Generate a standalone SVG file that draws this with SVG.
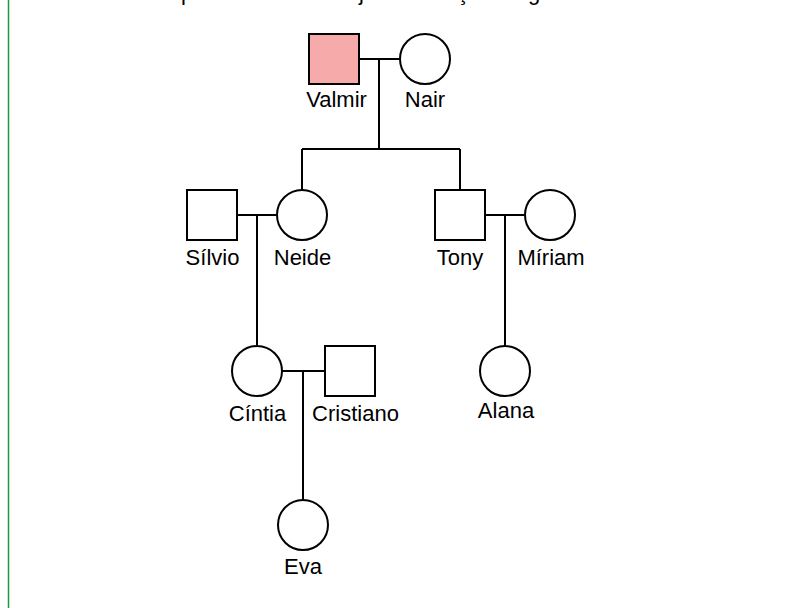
<svg xmlns="http://www.w3.org/2000/svg" width="792" height="608" viewBox="0 0 792 608">
<style>
.n{fill:#fff;stroke:#000;stroke-width:2}
.a{fill:#f7aaaa}
.l{fill:none;stroke:#000;stroke-width:2}
text{font-family:"Liberation Sans",Arial,sans-serif;font-size:22px;fill:#000}
.c{text-anchor:middle}
</style>
<rect width="792" height="608" fill="#fff"/>
<line x1="8.5" y1="0" x2="8.5" y2="608" stroke="#1a9a3a" stroke-width="1.5"/>
<text y="0"><tspan x="181">p</tspan><tspan x="359">j</tspan><tspan x="457">ç</tspan><tspan x="528">g</tspan></text>
<g id="connectors" class="l">
<path class="l" d="M359 59H400M379 59V149M302 149H460M302 149V190M460 149V190"/>
<path class="l" d="M237 215H277M257 215V346"/>
<path class="l" d="M485 215H525M505 215V346"/>
<path class="l" d="M282 371H325M303 371V500"/>
</g>
<g id="valmir"><rect class="n a" x="309" y="34" width="50" height="50"/><text class="c" x="336.5" y="107">Valmir</text></g>
<g id="nair"><circle class="n" cx="425" cy="59" r="25"/><text class="c" x="425" y="107">Nair</text></g>
<g id="silvio"><rect class="n" x="187" y="190" width="50" height="50"/><text class="c" x="212.5" y="265">Sílvio</text></g>
<g id="neide"><circle class="n" cx="302" cy="215" r="25"/><text class="c" x="302.5" y="265">Neide</text></g>
<g id="tony"><rect class="n" x="435" y="190" width="50" height="50"/><text class="c" x="460" y="265">Tony</text></g>
<g id="miriam"><circle class="n" cx="550" cy="215" r="25"/><text class="c" x="551" y="265">Míriam</text></g>
<g id="cintia"><circle class="n" cx="257" cy="371" r="25"/><text class="c" x="257.5" y="421">Cíntia</text></g>
<g id="cristiano"><rect class="n" x="325" y="346" width="50" height="50"/><text class="c" x="355.5" y="421">Cristiano</text></g>
<g id="alana"><circle class="n" cx="505" cy="371" r="25"/><text class="c" x="506" y="418">Alana</text></g>
<g id="eva"><circle class="n" cx="303" cy="525" r="25"/><text class="c" x="303" y="574">Eva</text></g>
</svg>
